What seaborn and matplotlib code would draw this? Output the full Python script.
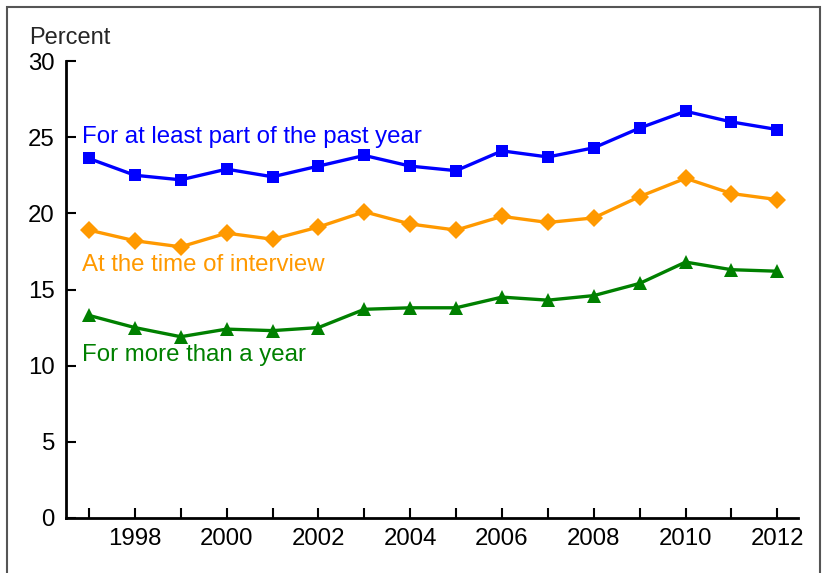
import matplotlib
matplotlib.use("Agg")
import matplotlib.pyplot as plt
import seaborn as sns
import pandas as pd
from matplotlib.patches import Rectangle

years = list(range(1997, 2013))
past_year = [23.6, 22.5, 22.2, 22.9, 22.4, 23.1, 23.8, 23.1, 22.8, 24.1, 23.7, 24.3, 25.6, 26.7, 26.0, 25.5]
at_interview = [18.9, 18.2, 17.8, 18.7, 18.3, 19.1, 20.1, 19.3, 18.9, 19.8, 19.4, 19.7, 21.1, 22.3, 21.3, 20.9]
more_than_year = [13.3, 12.5, 11.9, 12.4, 12.3, 12.5, 13.7, 13.8, 13.8, 14.5, 14.3, 14.6, 15.4, 16.8, 16.3, 16.2]
series_names = ["For at least part of the past year", "At the time of interview", "For more than a year"]
label_y = [25.0, 16.6, 10.7]
y_ticks = [0, 5, 10, 15, 20, 25, 30]
x_ticks = [1998, 2000, 2002, 2004, 2006, 2008, 2010, 2012]

sns.set_style("ticks")
plt.rcParams['font.family'] = ['Liberation Sans', 'DejaVu Sans']

fig = plt.figure(figsize=(8.22, 5.73), dpi=100)
ax = fig.add_axes([66/822, 1-518/573, (798-66)/822, (518-61)/573])

colors = ["#0000FF", "#FF9900", "#008000"]
markers = ["s", "D", "^"]
msizes = [9, 9, 10]
for vals, name, c, m, ms, ly in zip([past_year, at_interview, more_than_year], series_names, colors, markers, msizes, label_y):
    df = pd.DataFrame({"year": years, "value": vals})
    sns.lineplot(data=df, x="year", y="value", ax=ax, color=c, marker=m, markersize=ms,
                 markeredgewidth=0, linewidth=2.4, clip_on=False)
    ax.text(1996.85, ly, name, color=c, fontsize=17.3, va="center", ha="left")

ax.set_xlim(1996.5, 2012.45)
ax.set_ylim(0, 30)
ax.set_xticks(years, minor=True)
ax.set_xticks(x_ticks)
ax.set_xticklabels([str(x) for x in x_ticks])
ax.set_yticks(y_ticks)
ax.tick_params(axis="both", which="both", direction="in", length=7, width=1.5, color="black", labelsize=17.3, labelcolor="black")
ax.tick_params(axis="x", which="both", pad=7)
ax.tick_params(axis="y", pad=8)
ax.set_xlabel("")
ax.set_ylabel("")
for s in ["top", "right"]:
    ax.spines[s].set_visible(False)
for s in ["left", "bottom"]:
    ax.spines[s].set_linewidth(2)
    ax.spines[s].set_color("black")

fig.text(29/822, 1-38/573, "Percent", fontsize=17, va="center", ha="left")

border = Rectangle((7/822, -0.05), (820-7)/822, 1.05 - 7/573, transform=fig.transFigure,
                   fill=False, edgecolor="#555555", linewidth=1.5, clip_on=False)
fig.patches.append(border)

fig.savefig("out.png", dpi=100)
